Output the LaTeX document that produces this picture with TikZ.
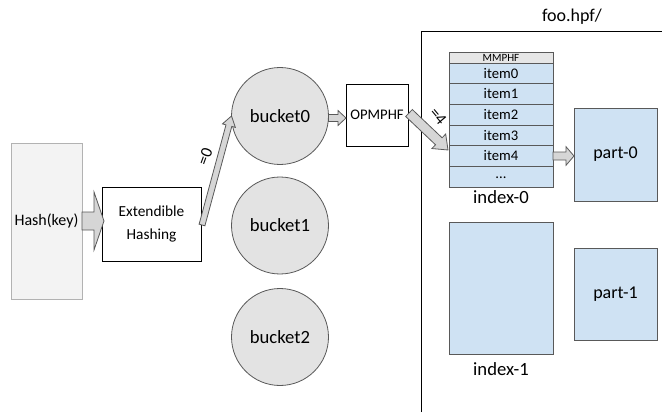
\documentclass[tikz,border=0pt]{standalone}
\usepackage{fontspec}
\setmainfont{Carlito}
\usetikzlibrary{calc}

\definecolor{edge}{HTML}{595959}
\definecolor{paleblue}{HTML}{CFE2F3}
\definecolor{bucketgray}{HTML}{E3E3E3}
\definecolor{arrowgray}{HTML}{D6D6D6}
\definecolor{hashgray}{HTML}{F3F3F3}
\definecolor{headgray}{HTML}{E6E6E6}

\tikzset{
  base/.style={draw, line width=0.6pt, inner sep=0pt, outer sep=0pt, align=center},
  hashbox/.style={base, draw=gray!60, fill=hashgray, font=\fontsize{12}{14}\selectfont},
  stagebox/.style={base, draw=black, fill=white},
  bucket/.style={base, circle, draw=edge, fill=bucketgray, minimum size=72.75pt,
                 font=\fontsize{14}{16}\selectfont},
  row/.style={base, draw=edge, fill=paleblue, minimum width=78pt, minimum height=15.5pt,
              font=\fontsize{11}{12}\selectfont},
  headrow/.style={base, draw=edge, fill=headgray, minimum width=78pt, minimum height=8.25pt,
                  font=\fontsize{8.3}{9}\selectfont},
  filebox/.style={base, draw=edge, fill=paleblue},
  caption/.style={inner sep=0pt, font=\fontsize{14}{16}\selectfont},
  arrowbody/.style={draw=edge, fill=arrowgray, line width=0.6pt, line join=miter},
  eqlabel/.style={inner sep=0pt, font=\fontsize{12.5}{14}\selectfont},
}

% block arrow: from, to, shaft half width, head half width, head length
\newcommand{\blockarrow}[5]{%
  \coordinate (ba-h) at ($(#2)!#5!(#1)$);
  \filldraw[arrowbody]
    ($(#1)!#3!90:(#2)$) -- ($(ba-h)!#3!90:(#2)$) -- ($(ba-h)!#4!90:(#2)$) --
    (#2) --
    ($(ba-h)!#4!-90:(#2)$) -- ($(ba-h)!#3!-90:(#2)$) -- ($(#1)!#3!-90:(#2)$) -- cycle;
}

\begin{document}
\begin{tikzpicture}[x=0.75pt, y=-0.75pt]
  \useasboundingbox (0,0) rectangle (662,414);

  % input and hashing stage
  \node[hashbox, minimum width=53.25pt, minimum height=117pt] (hash) at (46.5,221) {Hash(key)};
  \node[stagebox, minimum width=74.25pt, minimum height=55.5pt,
        font=\fontsize{11.5}{17}\selectfont] (ext) at (151.5,224) {Extendible\\Hashing};

  % buckets
  \node[bucket] (b0) at (280,116) {bucket0};
  \node[bucket] (b1) at (280,225.5) {bucket1};
  \node[bucket] (b2) at (280,337) {bucket2};

  % perfect hash function
  \node[stagebox, minimum width=46.5pt, minimum height=46.5pt,
        font=\fontsize{11}{12}\selectfont] (opm) at (377,115) {OPMPHF};

  % directory frame
  \coordinate (fbot) at (421,412);
  \coordinate (fcorner) at (421,31);
  \coordinate (fright) at (662,31);
  \draw[line width=0.6pt] (fbot) -- (fcorner) -- (fright);
  \node[caption, font=\fontsize{13.5}{15}\selectfont] (dir) at (572,17) {foo.hpf/};

  % index-0 table
  \node[headrow] (mm) at (501,57.5) {MMPHF};
  \node[row] (item0) at (501,73.3) {item0};
  \node[row] (item1) at (501,94) {item1};
  \node[row] (item2) at (501,114.7) {item2};
  \node[row] (item3) at (501,135.3) {item3};
  \node[row] (item4) at (501,156) {item4};
  \node[row] (dots) at (501,176.7) {\raisebox{-0.5ex}{...}};
  \node[caption] (idx0) at (501,197) {index-0};

  % index-1 and data parts
  \node[filebox, minimum width=78pt, minimum height=99pt] (idx1box) at (501,288) {};
  \node[caption] (idx1) at (501,369) {index-1};
  \node[filebox, minimum width=62.25pt, minimum height=69.75pt,
        font=\fontsize{13.5}{15}\selectfont] (part0) at (615.5,154.5) {part-0};
  \node[filebox, minimum width=62.25pt, minimum height=69pt,
        font=\fontsize{13.5}{15}\selectfont] (part1) at (615.5,294) {part-1};

  % connectors
  \coordinate (a1s) at (hash.east);
  \coordinate (a1e) at ($(hash.east -| ext.west)+(2,0)$);
  \blockarrow{a1s}{a1e}{6.75pt}{21.75pt}{7.5pt}

  \coordinate (a2s) at ($(ext.east)+(1,1)$);
  \coordinate (a2e) at (b0.west);
  \blockarrow{a2s}{a2e}{2.25pt}{5pt}{7.5pt}
  \node[eqlabel, rotate=70] (eq0) at (205,157) {=0};

  \coordinate (a3s) at ($(b0.east)+(0,2)$);
  \coordinate (a3e) at ($(opm.west)+(0,3)$);
  \blockarrow{a3s}{a3e}{2.6pt}{5.6pt}{6pt}

  \coordinate (a4s) at ($(opm.east)+(1,-2)$);
  \coordinate (a4e) at ($(item4.west)+(-1,-6)$);
  \blockarrow{a4s}{a4e}{3.6pt}{7.5pt}{9.5pt}
  \node[eqlabel, rotate=-50] (eq4) at (438,116) {=4};

  \coordinate (a5s) at (item4.east);
  \coordinate (a5e) at ($(item4.east -| part0.west)$);
  \blockarrow{a5s}{a5e}{3pt}{7pt}{6pt}
\end{tikzpicture}
\end{document}
